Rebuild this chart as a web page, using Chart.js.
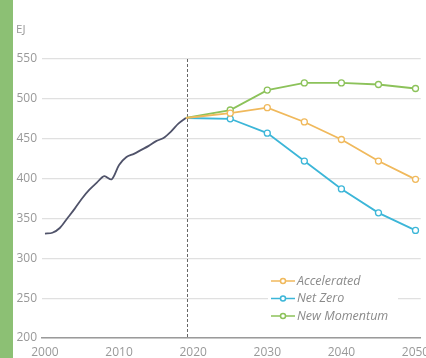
<!DOCTYPE html>
<html>
<head>
<meta charset="utf-8">
<script src="https://cdn.jsdelivr.net/npm/chart.js@4/dist/chart.umd.min.js"></script>
<style>
  html, body { margin: 0; padding: 0; background: #fff; }
  #wrap { position: relative; width: 426px; height: 358px; }
  #bar { position: absolute; left: 0; top: 0; width: 13px; height: 358px; background: #8cc074; }
</style>
</head>
<body>
<div id="wrap">
  <canvas id="chart" width="426" height="358"></canvas>
  <div id="bar"></div>
</div>
<script>
const histYears = [2000, 2001, 2002, 2003, 2004, 2005, 2006, 2007, 2008, 2009, 2010, 2011, 2012, 2013, 2014, 2015, 2016, 2017, 2018, 2019]
const histValues = [331, 332, 338, 350, 362, 375, 386, 395, 403, 399, 417, 427, 431, 436, 441, 447, 451, 459, 469, 476]

const projYears = [2019, 2025, 2030, 2035, 2040, 2045, 2050]
const accelerated = [476, 482, 489, 471, 449, 422, 399]
const netZero = [476, 475, 457, 422, 387, 357, 335]
const newMomentum = [476, 486, 511, 520, 520, 518, 513]

const xTicks = [2000, 2010, 2020, 2030, 2040, 2050]
const yTicks = [200, 250, 300, 350, 400, 450, 500, 550]
const dividerYear = 2019.2
const unitLabel = "EJ"

const toPoints = (xs, ys) => xs.map((x, i) => ({ x, y: ys[i] }))
const markerRadius = projYears.map((y, i) => (i === 0 ? 0 : 3))

const GREY = "#999"
const FONT = "'Open Sans', sans-serif"

const extras = {
  id: "extras",
  beforeDatasetsDraw(chart) {
    const { ctx, chartArea, scales } = chart
    const x = Math.round(scales.x.getPixelForValue(dividerYear)) + 0.5
    ctx.save()
    ctx.strokeStyle = "#666"
    ctx.lineWidth = 1
    ctx.setLineDash([3, 2])
    ctx.beginPath()
    ctx.moveTo(x, chartArea.top)
    ctx.lineTo(x, chartArea.bottom)
    ctx.stroke()
    ctx.restore()
  },
  afterDraw(chart) {
    const { ctx } = chart
    ctx.save()
    ctx.fillStyle = GREY
    ctx.font = "11.5px " + FONT
    ctx.textBaseline = "middle"
    ctx.fillText(unitLabel, 16, 30)

    // legend, inside plot lower right
    const box = { left: 268, top: 272, width: 130, height: 52 }
    ctx.fillStyle = "#fff"
    ctx.fillRect(box.left, box.top, box.width, box.height)
    chart.data.datasets.slice(1).forEach((ds, i) => {
      const y = 281 + i * 17.5
      ctx.strokeStyle = ds.borderColor
      ctx.lineWidth = 1.5
      ctx.beginPath()
      ctx.moveTo(271, y)
      ctx.lineTo(295, y)
      ctx.stroke()
      ctx.fillStyle = "#fff"
      ctx.beginPath()
      ctx.arc(283, y, 2.5, 0, Math.PI * 2)
      ctx.fill()
      ctx.stroke()
      ctx.fillStyle = "#8a8a8a"
      ctx.font = "italic 12.5px " + FONT
      ctx.fillText(ds.label, 297, y)
    })
    ctx.restore()
  }
}

const lineStyle = (color) => ({
  borderColor: color,
  backgroundColor: "#fff",
  borderWidth: 1.8,
  pointRadius: markerRadius,
  pointBorderWidth: 1.3,
  pointBorderColor: color,
  pointBackgroundColor: "#fff",
  tension: 0
})

new Chart(document.getElementById("chart"), {
  type: "line",
  data: {
    datasets: [
      {
        label: "History",
        data: toPoints(histYears, histValues),
        borderColor: "#50536a",
        borderWidth: 1.8,
        pointRadius: 0,
        tension: 0.3
      },
      { label: "Accelerated", data: toPoints(projYears, accelerated), ...lineStyle("#f0b95c") },
      { label: "Net Zero", data: toPoints(projYears, netZero), ...lineStyle("#3cb6d8") },
      { label: "New Momentum", data: toPoints(projYears, newMomentum), ...lineStyle("#8cc25a") }
    ]
  },
  options: {
    responsive: false,
    animation: false,
    layout: { padding: { top: 59, right: 4, left: 0, bottom: 0 } },
    scales: {
      x: {
        type: "linear",
        min: 1999.6,
        max: 2050.7,
        afterBuildTicks: (scale) => { scale.ticks = xTicks.map(v => ({ value: v })) },
        afterFit: (scale) => {
          scale.height = 20
          scale.paddingLeft = 0
          scale.paddingRight = 0
        },
        grid: { display: false, drawTicks: false },
        border: { display: true, color: "#9a9a9a", width: 1.5 },
        ticks: {
          padding: 7,
          color: GREY,
          font: { family: FONT, size: 12 },
          maxRotation: 0,
          callback: (v) => String(v)
        }
      },
      y: {
        min: 200,
        max: 550,
        afterBuildTicks: (scale) => { scale.ticks = yTicks.map(v => ({ value: v })) },
        afterFit: (scale) => {
          scale.width = 42
          scale.paddingTop = 0
          scale.paddingBottom = 0
        },
        grid: { color: "#e0e0e0", lineWidth: 1.2, drawTicks: false },
        border: { display: false },
        ticks: {
          padding: 5,
          color: GREY,
          font: { family: FONT, size: 12 }
        }
      }
    },
    plugins: {
      legend: { display: false },
      tooltip: { enabled: false }
    }
  },
  plugins: [extras]
})
</script>
</body>
</html>
